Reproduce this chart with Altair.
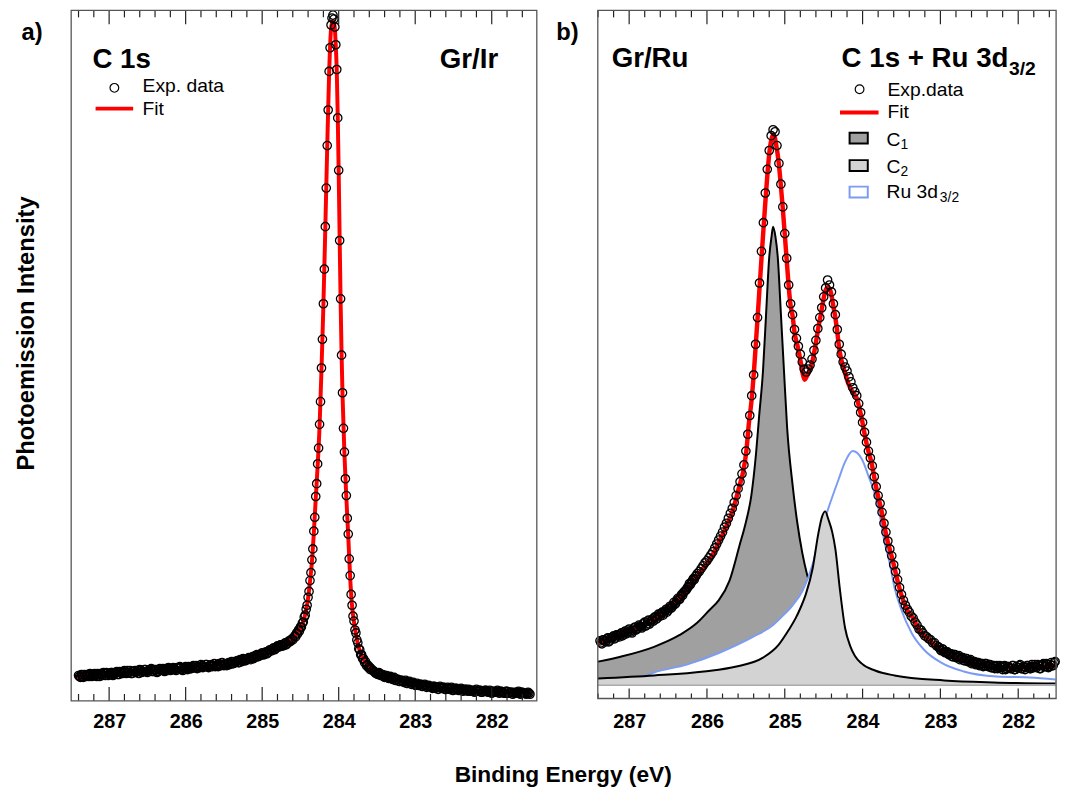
import altair as alt
import pandas as pd

FONT = "Liberation Sans"

# ---------------- shared axis values ----------------
major_ticks = [287, 286, 285, 284, 283, 282]
minor_ticks = [287.4, 287.2, 286.8, 286.6, 286.4, 286.2, 285.8, 285.6, 285.4, 285.2,
               284.8, 284.6, 284.4, 284.2, 283.8, 283.6, 283.4, 283.2, 282.8, 282.6,
               282.4, 282.2, 281.8, 281.6]

# ---------------- panel a : Gr/Ir, C 1s ----------------
a_left_start, a_left_step = 287.40, 0.025
a_exp_left = [26, 24, 25, 27, 25, 26, 28, 25, 27, 26,
              28, 25, 27, 29, 26, 28, 27, 29, 26, 28,
              30, 27, 29, 28, 31, 28, 29, 31, 28, 30,
              29, 31, 32, 29, 30, 32, 29, 31, 33, 30,
              31, 29, 32, 31, 33, 30, 32, 34, 31, 32,
              33, 31, 33, 35, 32, 33, 35, 32, 34, 33,
              36, 34, 33, 35, 37, 34, 35, 37, 34, 36,
              35, 38, 36, 35, 37, 39, 36, 37, 38, 37,
              40, 38, 39, 41, 39, 41, 43, 41, 42, 44,
              42, 45, 44, 47, 45, 46, 49, 47, 50, 49,
              52, 51, 54, 53, 56, 55, 57, 56, 59, 58,
              61, 61, 62]
a_left2_start, a_left2_step = 287.3875, 0.025
a_exp_left2 = [25, 27, 24, 26, 27, 25, 27, 26, 28, 25,
               27, 28, 26, 28, 29, 26, 28, 29, 27, 29,
               27, 30, 28, 30, 29, 31, 29, 28, 30, 31,
               30, 28, 31, 30, 32, 30, 31, 32, 30, 32,
               32, 30, 33, 32, 31, 33, 31, 33, 32, 34,
               32, 34, 33, 34, 31, 34, 33, 35, 33, 35,
               34, 36, 35, 34, 36, 35, 37, 35, 36, 37,
               36, 35, 37, 38, 36, 37, 38, 36, 39, 38,
               38, 40, 40, 39, 42, 40, 42, 41, 43, 43,
               44, 43, 46, 45, 47, 48, 47, 49, 48, 51,
               51, 53, 52, 55, 55, 57, 56, 58, 57, 60,
               60, 63]
a_peak_start, a_peak_step = 284.575, 0.0125
a_exp_peak = [66, 65, 69, 68, 72, 71, 75, 75, 79, 80,
              85, 87, 93, 97, 105, 111, 122, 130, 143, 154,
              172, 186, 207, 220, 240, 256, 280, 303, 337, 366,
              402, 437, 480, 519, 562, 598, 637, 661, 684, 691,
              694, 690, 682, 664, 639, 590, 537, 466, 407, 350,
              312, 276, 252, 225, 208, 185, 169, 144, 127, 108,
              97, 86, 81, 72, 69, 62, 59, 53, 52, 47,
              47, 43, 43, 39, 40, 36, 37, 34, 35, 32,
              33]
a_right_start, a_right_step = 283.55, 0.025
a_exp_right = [31, 29, 28, 29, 26, 27, 24, 26, 23, 25,
               22, 24, 21, 22, 20, 21, 19, 21, 18, 20,
               17, 19, 16, 18, 16, 17, 15, 17, 14, 16,
               15, 13, 15, 14, 12, 15, 13, 14, 12, 14,
               12, 14, 11, 13, 12, 11, 13, 10, 12, 11,
               12, 10, 11, 9, 12, 10, 11, 9, 10, 11,
               9, 11, 8, 10, 9, 11, 8, 10, 9, 8,
               10, 8, 9, 7, 9, 8, 10, 7, 9, 8,
               7, 9, 7]
a_right2_start, a_right2_step = 283.5375, 0.025
a_exp_right2 = [30, 28, 27, 28, 27, 25, 26, 24, 24, 23,
                23, 21, 22, 20, 21, 20, 20, 18, 19, 19,
                18, 17, 17, 16, 17, 15, 16, 16, 15, 15,
                14, 15, 13, 14, 14, 13, 14, 12, 13, 13,
                13, 11, 12, 13, 11, 12, 12, 11, 12, 10,
                11, 11, 10, 11, 10, 11, 9, 10, 11, 10,
                10, 9, 10, 9, 10, 9, 10, 9, 8, 10,
                8, 9, 9, 8, 8, 9, 8, 9, 8, 8,
                8, 8]
a_fit_E = [287.43, 287.20, 287.00, 286.75, 286.50, 286.25, 286.00, 285.75, 285.50, 285.25,
           285.00, 284.90, 284.80, 284.70, 284.60, 284.55, 284.50, 284.45, 284.425, 284.40,
           284.375, 284.35, 284.325, 284.30, 284.275, 284.25, 284.225, 284.20, 284.175, 284.15,
           284.125, 284.10, 284.0875, 284.075, 284.0625, 284.05, 284.0375, 284.025, 284.0125, 284.00,
           283.9875, 283.975, 283.9625, 283.95, 283.925, 283.90, 283.875, 283.85, 283.825, 283.80,
           283.775, 283.75, 283.70, 283.65, 283.60, 283.55, 283.50, 283.40, 283.30, 283.20,
           283.10, 283.00, 282.80, 282.60, 282.40, 282.20, 282.00, 281.80, 281.60, 281.48]
a_fit_I = [24.5, 26.5, 27.5, 29, 30, 31.5, 33, 35, 36.5, 41,
           47, 51, 55, 58, 63, 68, 74, 84, 92, 104,
           121, 141, 170, 205, 238, 278, 335, 400, 478, 560,
           635, 680, 686, 688, 686, 680, 662, 637, 592, 535,
           468, 405, 352, 310, 250, 206, 167, 125, 96, 80,
           68, 58, 46, 39, 34, 30, 28, 25, 23, 20.5,
           18.7, 17.3, 15, 13.2, 12, 10.8, 10, 9.2, 8.4, 7.8]

# ---------------- panel b : Gr/Ru, C 1s + Ru 3d3/2 ----------------
b_exp_start, b_exp_step = 287.375, 0.025
b_exp = [45, 42, 46, 44, 48, 45, 47, 50, 48, 51,
         49, 53, 51, 55, 53, 57, 54, 56, 59, 57,
         61, 59, 62, 64, 61, 66, 64, 67, 69, 67,
         72, 70, 74, 73, 77, 76, 80, 79, 84, 83,
         88, 87, 92, 94, 96, 99, 103, 104, 108, 110,
         113, 115, 118, 121, 124, 126, 129, 132, 135, 139,
         143, 147, 151, 155, 160, 164, 169, 174, 179, 185,
         192, 199, 206, 214, 223, 237, 254, 273, 293, 314,
         345, 372, 407, 439, 468, 498, 522, 541, 556, 562,
         560, 546, 528, 507, 484, 457, 432, 405, 386, 375,
         360, 351, 343, 335, 327, 320, 317, 320, 324, 330,
         339, 349, 361, 372, 382, 393, 402, 410, 405, 398,
         386, 375, 360, 345, 335, 327, 322, 318, 312, 307,
         301, 297, 293, 285, 276, 266, 256, 246, 237, 230,
         222, 211, 201, 192, 184, 175, 164, 155, 146, 138,
         131, 122, 115, 107, 99, 92, 86, 81, 77, 74,
         70, 68, 64, 61, 57, 56, 53, 50, 49, 47,
         46, 43, 43, 40, 39, 36, 37, 34, 34, 32,
         32, 29, 31, 28, 29, 26, 28, 25, 27, 24,
         25, 22, 24, 21, 23, 20, 22, 19, 22, 20,
         21, 18, 20, 17, 20, 18, 19, 16, 20, 17,
         19, 17, 20, 16, 19, 18, 21, 17, 19, 18,
         20, 17, 21, 18, 19, 21, 17, 20, 22, 19,
         21, 19, 23, 20, 24]
b_left2_start, b_left2_step = 287.3625, 0.025
b_exp_left2 = [43, 46, 45, 47, 44, 48, 49, 47, 51, 50,
               52, 50, 54, 52, 56, 55, 53, 58, 56, 58,
               60, 58, 63, 60, 65, 62, 66, 65, 69, 68,
               71, 73, 71, 75, 74, 78, 78, 81, 82, 86,
               87, 90, 91, 95, 97, 100, 102, 106, 107, 111]
b_right2_start, b_right2_step = 283.0125, 0.025
b_exp_right2 = [38, 35, 36, 33, 34, 31, 32, 29, 31, 28,
                30, 27, 28, 25, 27, 24, 26, 23, 24, 22,
                23, 21, 22, 20, 22, 19, 21, 18, 20, 19,
                17, 20, 18, 19, 16, 19, 18, 17, 20, 16,
                18, 20, 17, 19, 16, 20, 18, 17, 19, 21,
                18, 20, 17, 21, 19, 22, 18, 21, 20, 23]
b_fit_E = [287.40, 287.15, 286.90, 286.64, 286.45, 286.26, 286.09, 285.92, 285.84, 285.75,
           285.66, 285.585, 285.535, 285.495, 285.46, 285.43, 285.395, 285.37, 285.345, 285.32,
           285.295, 285.27, 285.245, 285.22, 285.195, 285.17, 285.15, 285.127, 285.115, 285.077,
           285.051, 285.026, 285.00, 284.975, 284.95, 284.925, 284.90, 284.873, 284.835, 284.797,
           284.771, 284.746, 284.721, 284.695, 284.644, 284.606, 284.568, 284.53, 284.504, 284.479,
           284.441, 284.403, 284.377, 284.352, 284.326, 284.301, 284.263, 284.225, 284.187, 284.123,
           284.072, 284.034, 284.009, 283.971, 283.933, 283.882, 283.844, 283.806, 283.755, 283.717,
           283.679, 283.628, 283.59, 283.552, 283.488, 283.425, 283.336, 283.298, 283.171, 282.993,
           282.828, 282.612, 282.408, 282.154, 281.90, 281.646, 281.52]
b_fit_I = [43, 50, 58, 69, 80, 97, 114, 133, 146, 161,
           179, 201, 216, 236, 266, 286, 319, 348, 377, 407,
           437, 466, 494, 520, 541, 553, 557, 554, 549, 528,
           506, 483, 456, 430, 404, 384, 374, 356, 343, 328,
           316, 309, 312, 316, 328, 344, 362, 378, 390, 399,
           403, 396, 384, 373, 358, 341, 326, 316, 306, 296,
           290, 278, 269, 253, 239, 224, 208, 193, 176, 160,
           146, 131, 119, 106, 88, 76, 66, 59, 48, 36,
           29, 23, 20, 18, 18, 19, 20]
b_c1_E = [287.40, 287.11, 286.68, 286.35, 286.13, 285.97, 285.85, 285.71, 285.58, 285.50,
          285.43, 285.37, 285.33, 285.28, 285.24, 285.20, 285.17, 285.15, 285.12, 285.09,
          285.05, 285.01, 284.97, 284.90, 284.84, 284.775, 284.71, 284.61, 284.415, 284.10,
          283.59, 282.99, 282.28, 281.52]
b_c1_I = [24, 29, 39, 51, 63, 76, 86, 106, 142, 165,
          192, 234, 272, 318, 376, 433, 454, 464, 454, 433,
          376, 318, 261, 203, 165, 134, 111, 86, 61, 40,
          22, 12, 6, 4]
b_c2_E = [287.40, 286.68, 286.04, 285.62, 285.28, 285.08, 284.95, 284.86, 284.80, 284.73,
          284.64, 284.57, 284.52, 284.48, 284.44, 284.39, 284.35, 284.29, 284.225, 284.16,
          284.10, 284.01, 283.84, 283.59, 282.95, 282.32, 281.52]
b_c2_I = [7, 10, 14, 19, 28, 41, 56, 68, 78, 92,
          119, 153, 171, 176, 168, 155, 138, 96, 58, 40,
          30, 22, 15, 10, 5, 3, 2]
b_ru_E = [287.40, 286.80, 286.68, 286.26, 285.84, 285.41, 285.15, 285.03, 284.90, 284.77,
          284.64, 284.57, 284.44, 284.31, 284.225, 284.127, 284.01, 283.93, 283.84, 283.78,
          283.72, 283.65, 283.59, 283.50, 283.37, 283.21, 282.99, 282.70, 282.28, 281.85,
          281.52]
b_ru_I = [6, 9.5, 13, 21, 33, 49, 61, 70, 81, 96,
          123, 146, 179, 208, 226, 237, 229, 213, 193, 173,
          146, 123, 99, 76, 53, 36, 23, 14, 9, 8,
          6]

# ---------------- tables ----------------
def grid(start, step, vals):
    return [round(start - step * i, 4) for i in range(len(vals))]

a_exp_df = pd.DataFrame({
    "E": grid(a_left_start, a_left_step, a_exp_left)
         + grid(a_left2_start, a_left2_step, a_exp_left2)
         + grid(a_peak_start, a_peak_step, a_exp_peak)
         + grid(a_right_start, a_right_step, a_exp_right)
         + grid(a_right2_start, a_right2_step, a_exp_right2),
    "I": a_exp_left + a_exp_left2 + a_exp_peak + a_exp_right + a_exp_right2,
})
a_fit_df = pd.DataFrame({"E": a_fit_E, "I": a_fit_I})
b_exp_df = pd.DataFrame({
    "E": grid(b_exp_start, b_exp_step, b_exp)
         + grid(b_left2_start, b_left2_step, b_exp_left2)
         + grid(b_right2_start, b_right2_step, b_exp_right2),
    "I": b_exp + b_exp_left2 + b_exp_right2,
})
b_fit_df = pd.DataFrame({"E": b_fit_E, "I": b_fit_I})
b_c1_df = pd.DataFrame({"E": b_c1_E, "I": b_c1_I})
b_c2_df = pd.DataFrame({"E": b_c2_E, "I": b_c2_I})
b_ru_df = pd.DataFrame({"E": b_ru_E, "I": b_ru_I})
major_df = pd.DataFrame({"t": major_ticks})
minor_df = pd.DataFrame({"t": minor_ticks})
dummy = pd.DataFrame({"d": [0]})

RED = "#ff0000"
BLUE = "#7b9cf2"
FRAME = "#555555"
PT_SIZE = 72

# ---------------- layout (one view, two panels placed by scale ranges) ----------------
A_X0, A_X1, A_H = 0, 471, 698.4          # panel a plot box
B_X0, B_X1, B_H = 532.7, 996.3, 696      # panel b plot box
W = B_X1


def txt(s, x, y, size, weight="normal", align="left", baseline="alphabetic", angle=None):
    kw = dict(text=s, fontSize=size, fontWeight=weight, align=align,
              baseline=baseline, font=FONT, color="black")
    if angle is not None:
        kw["angle"] = angle
    return alt.Chart(dummy).mark_text(**kw).encode(x=alt.value(x), y=alt.value(y))


def x_axis():
    return alt.Axis(values=major_ticks, format="d", title=None, orient="bottom",
                    ticks=False, tickSize=0, domain=False, grid=False, labelFontSize=20,
                    labelFontWeight="bold", labelFont=FONT, labelColor="black",
                    labelPadding=11, labelFlush=False, offset=0)


def build_panel(sc, ys, H, x0, x1, bot_major, bot_minor, layers_before, pts_df, extra):
    ax = x_axis()

    def X(field):
        return alt.X(field, type="quantitative", scale=sc, axis=ax)

    out = []
    for lay in layers_before:
        kind, df, style = lay
        if kind == "area":
            out.append(alt.Chart(df).mark_area(color=style, opacity=1, interpolate="monotone").encode(
                x=X("E"), y=alt.Y("I:Q", scale=ys, axis=None), y2=alt.datum(0)))
        elif kind == "line":
            color, width = style
            out.append(alt.Chart(df).mark_line(color=color, strokeWidth=width,
                                               interpolate="monotone").encode(
                x=X("E"), y=alt.Y("I:Q", scale=ys, axis=None)))
        elif kind == "base":
            out.append(alt.Chart(df).mark_rule(color=style, strokeWidth=1.5).encode(
                x=alt.value(x0), x2=alt.value(x1), y=alt.Y("d:Q", scale=ys, axis=None)))
    out.append(alt.Chart(pts_df).mark_point(shape="circle", filled=False, color="black",
                                            size=PT_SIZE, strokeWidth=1.3, opacity=1).encode(
        x=X("E"), y=alt.Y("I:Q", scale=ys, axis=None)))
    for df, top_len, bot_len in ((major_df, 14, bot_major), (minor_df, 7, bot_minor)):
        out.append(alt.Chart(df).mark_rule(color="#222", strokeWidth=1.2).encode(
            x=X("t"), y=alt.value(0), y2=alt.value(top_len)))
        out.append(alt.Chart(df).mark_rule(color="#222", strokeWidth=1.2).encode(
            x=X("t"), y=alt.value(H), y2=alt.value(H - bot_len)))
    out.append(alt.Chart(dummy).mark_rect(fill="white", fillOpacity=0, stroke=FRAME,
                                          strokeWidth=1.3).encode(
        x=alt.value(x0), x2=alt.value(x1), y=alt.value(0), y2=alt.value(H)))
    return alt.layer(*(out + extra))


# ---------------- panel a ----------------
sc_a = alt.Scale(domain=[281.411, 287.496], range=[A_X0, A_X1], reverse=True, nice=False, zero=False)
ys_a = alt.Scale(domain=[0.3, 698.7], range=[A_H, 0], nice=False, zero=False)

a_extra = [
    txt("C 1s", 21.5, 58.7, 28, "bold"),
    txt("Gr/Ir", 432, 58.7, 28, "bold", align="right"),
    alt.Chart(dummy).mark_point(shape="circle", filled=False, color="black", size=78,
                                strokeWidth=1.2, opacity=1).encode(x=alt.value(43.7), y=alt.value(78.3)),
    txt("Exp. data", 72.2, 82.7, 19.5),
    alt.Chart(dummy).mark_rule(color=RED, strokeWidth=4).encode(
        x=alt.value(24.7), x2=alt.value(62.7), y=alt.value(99.3)),
    txt("Fit", 72.2, 106.2, 19.5),
    txt("a)", -50.3, 29.7, 24, "bold"),
    txt("Photoemission Intensity", -37.3, 326.7, 24, "bold", align="center", angle=270),
    txt("Binding Energy (eV)", 497.7, 780.7, 23, "bold", align="center"),
]

panel_a = build_panel(sc_a, ys_a, A_H, A_X0, A_X1, 14, 7,
                      [("line", a_fit_df, (RED, 4))], a_exp_df, a_extra)

# ---------------- panel b ----------------
sc_b = alt.Scale(domain=[281.513, 287.403], range=[B_X0, B_X1], reverse=True, nice=False, zero=False)
ys_b = alt.Scale(domain=[-13.3, 682.7], range=[B_H, 0], nice=False, zero=False)


def rect(x1, x2, y1, y2, fill, stroke):
    return alt.Chart(dummy).mark_rect(fill=fill, stroke=stroke, strokeWidth=2, opacity=1).encode(
        x=alt.value(B_X0 + x1), x2=alt.value(B_X0 + x2), y=alt.value(y1), y2=alt.value(y2))


def btxt(s, x, y, size, weight="normal", align="left"):
    return txt(s, B_X0 + x, y, size, weight, align)


b_extra = [
    btxt("b)", -42, 30.2, 24, "bold"),
    btxt("Gr/Ru", 14, 56.7, 28, "bold"),
    btxt("C 1s + Ru 3d", 415.4, 56.7, 28, "bold", align="right"),
    btxt("3/2", 416, 65, 19.5, "bold"),
    alt.Chart(dummy).mark_point(shape="circle", filled=False, color="black", size=78,
                                strokeWidth=1.2, opacity=1).encode(
        x=alt.value(B_X0 + 264.8), y=alt.value(79.7)),
    btxt("Exp.data", 293, 86.4, 19.5),
    alt.Chart(dummy).mark_rule(color=RED, strokeWidth=4).encode(
        x=alt.value(B_X0 + 245), x2=alt.value(B_X0 + 284), y=alt.value(103.2)),
    btxt("Fit", 293, 108.9, 19.5),
    rect(254.7, 273.1, 123.7, 134.7, "#a0a0a0", "black"),
    btxt("C", 292, 137.3, 19.5),
    btxt("1", 306.3, 140.6, 14),
    rect(254.7, 273.1, 151.4, 162.4, "#d3d3d3", "black"),
    btxt("C", 292, 164.1, 19.5),
    btxt("2", 306.3, 167.4, 14),
    rect(254.7, 273.1, 178.2, 189.2, "white", BLUE),
    btxt("Ru 3d", 292, 190.2, 19.5),
    btxt("3/2", 346, 194.2, 14),
]

panel_b = build_panel(sc_b, ys_b, B_H, B_X0, B_X1, 10, 5, [
    ("area", b_c1_df, "#a0a0a0"), ("line", b_c1_df, ("black", 2)),
    ("area", b_ru_df, "white"), ("line", b_ru_df, (BLUE, 2)),
    ("area", b_c2_df, "#d3d3d3"), ("line", b_c2_df, ("black", 2)),
    ("base", dummy, "#aaaaaa"),
    ("line", b_fit_df, (RED, 4.5)),
], b_exp_df, b_extra)

chart = alt.layer(panel_a, panel_b).resolve_scale(
    x="independent", y="independent"
).properties(
    width=W, height=A_H,
    padding={"left": 15, "top": 3, "right": 0, "bottom": 0},
).configure(font=FONT).configure_view(stroke="transparent")

chart.save("out.html", embed_options={"renderer": "svg", "actions": False})
